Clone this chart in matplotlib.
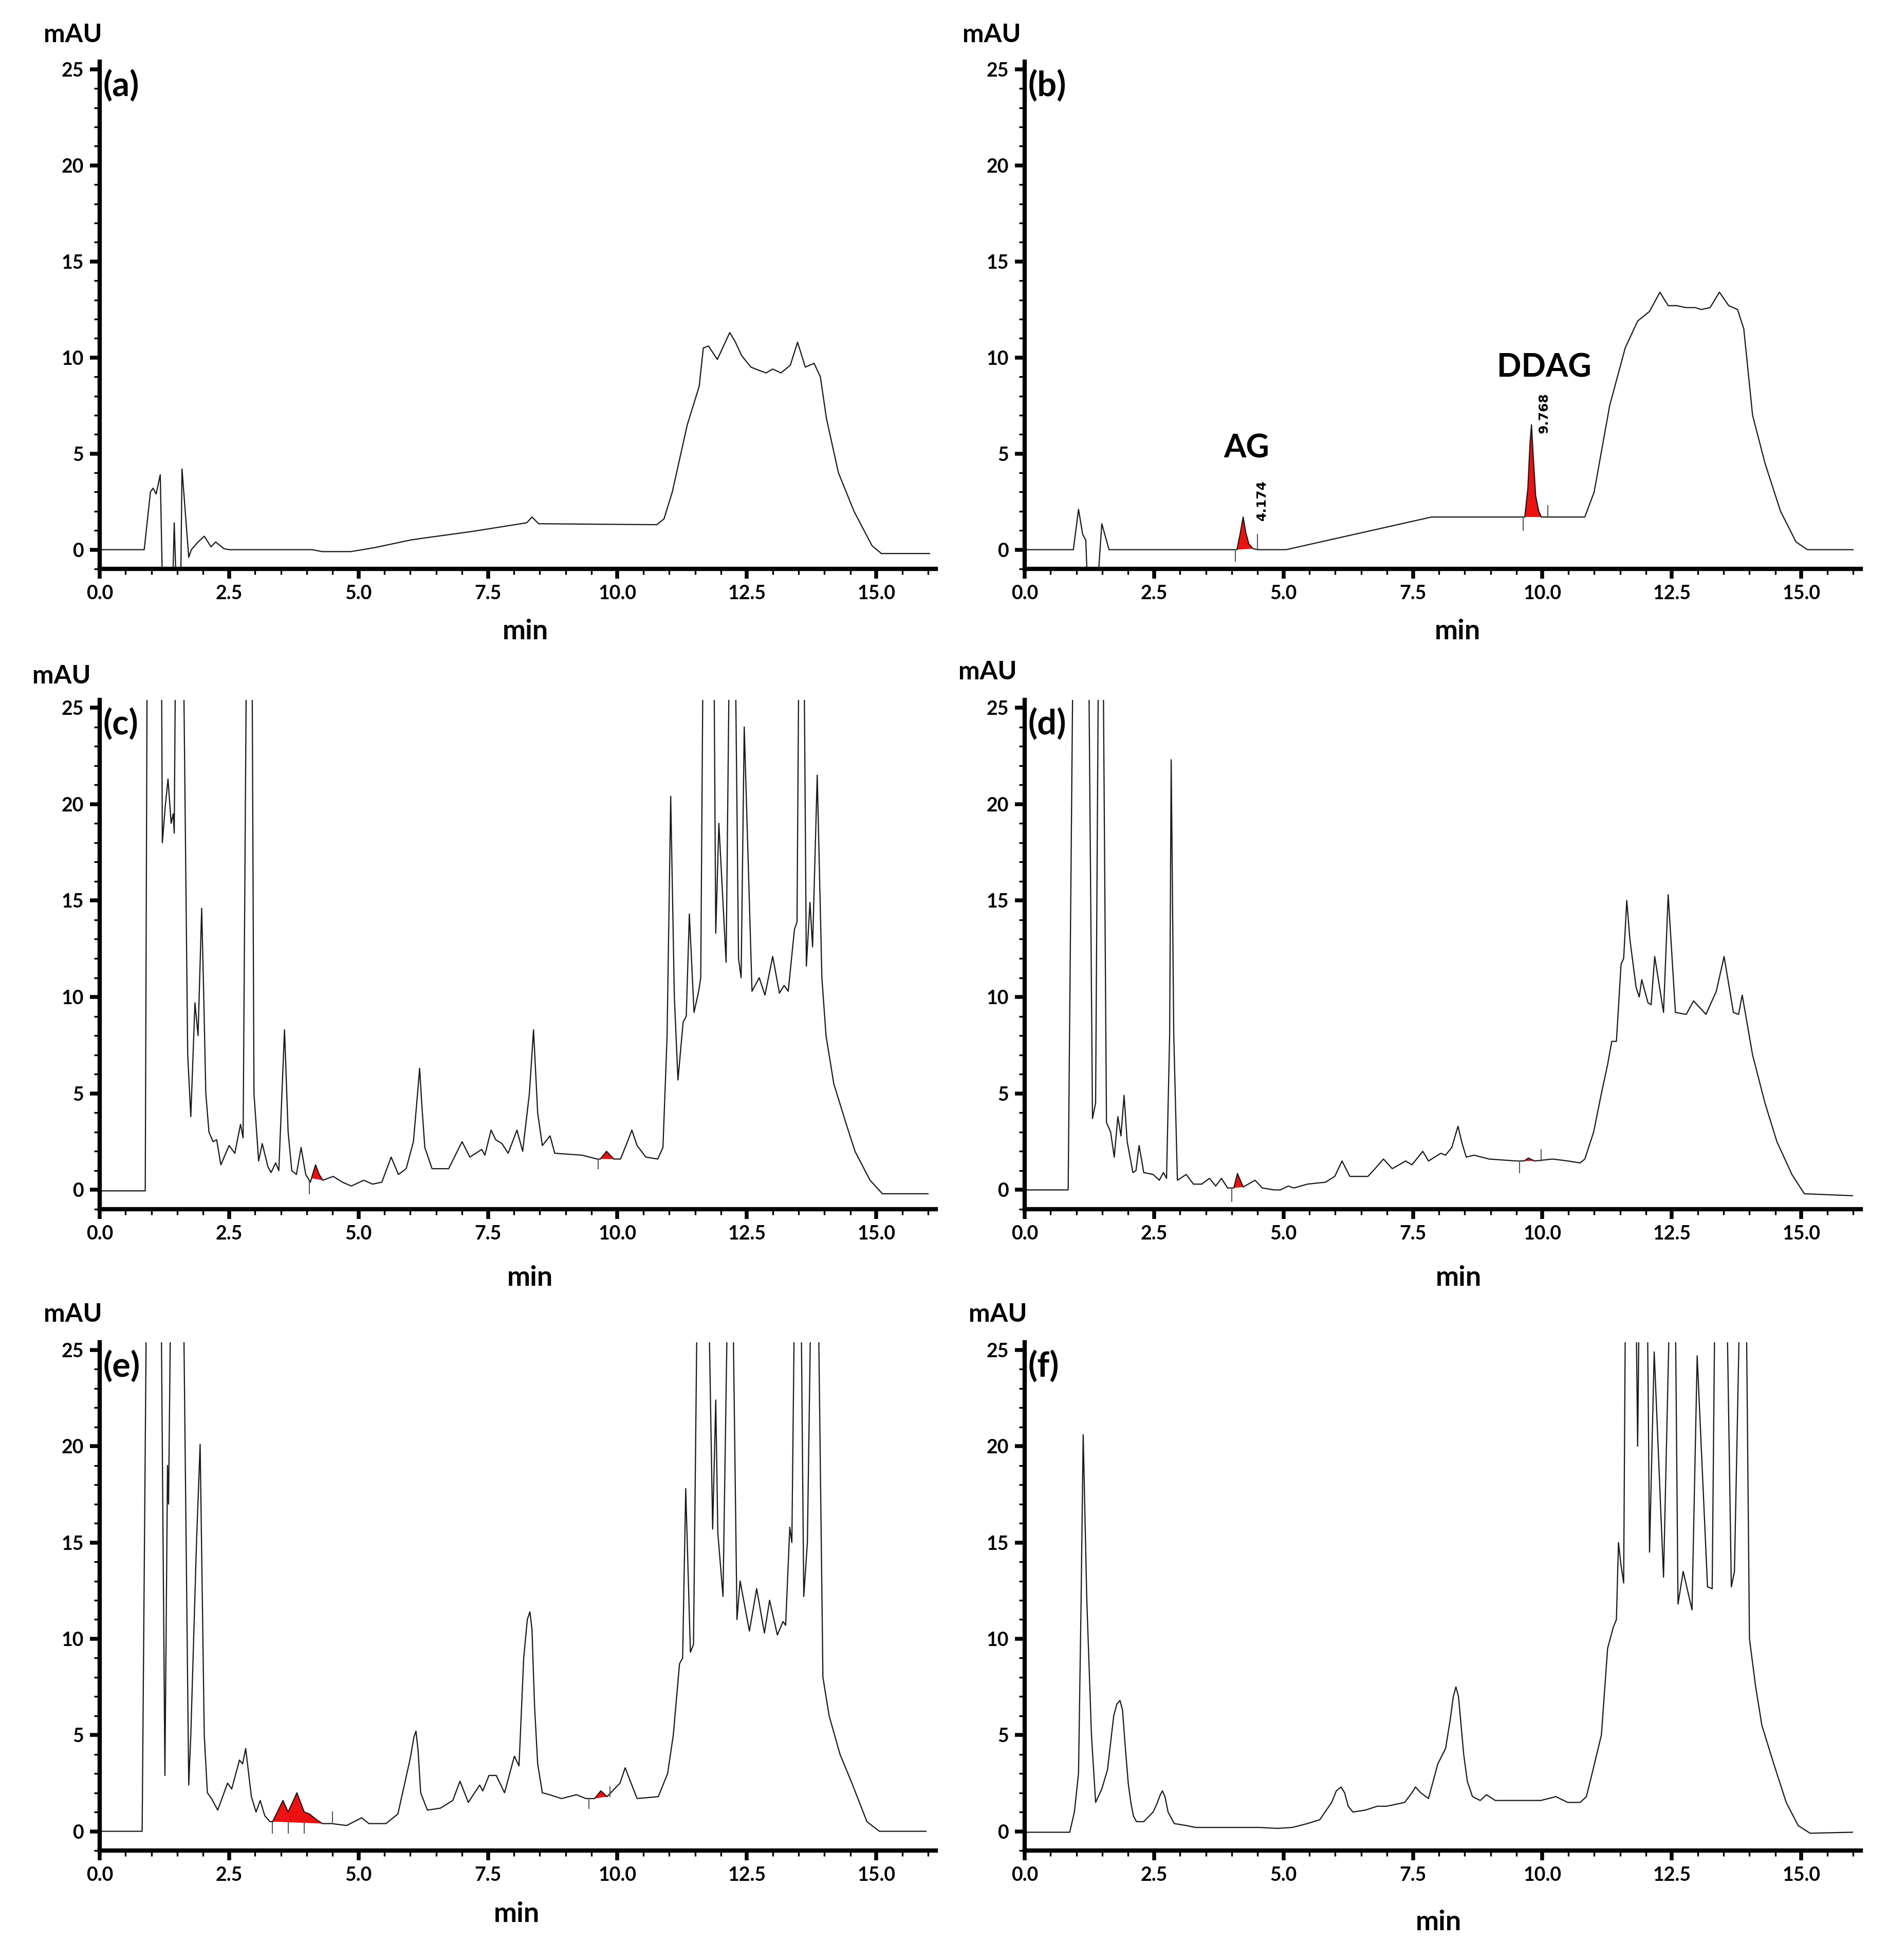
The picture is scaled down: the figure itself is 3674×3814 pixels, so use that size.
import numpy as np
import matplotlib
matplotlib.use("Agg")
import matplotlib.pyplot as plt
from matplotlib.ticker import MultipleLocator, FormatStrFormatter

plt.rcParams['font.family'] = ['Lato', 'DejaVu Sans']
plt.rcParams['font.weight'] = 'bold'

# chromatogram traces: (min, mAU); 30 = off scale
trace_a = [(0, 0), (0.86, 0), (0.98, 3.0), (1.03, 3.2), (1.09, 2.9), (1.17, 3.9), (1.22, -3),
           (1.40, -3), (1.44, 1.4), (1.49, -3), (1.56, -3), (1.59, 4.2), (1.72, -0.4), (1.77, 0.0),
           (1.90, 0.4), (2.02, 0.7), (2.15, 0.15), (2.24, 0.4), (2.40, 0.05), (2.50, 0.0), (4.10, 0.0),
           (4.30, -0.1), (4.85, -0.1), (5.30, 0.1), (6.0, 0.5), (6.25, 0.6), (7.2, 0.95), (7.9, 1.25),
           (8.25, 1.4), (8.35, 1.7), (8.48, 1.35), (10.76, 1.3), (10.9, 1.6), (11.06, 3.0), (11.35, 6.5),
           (11.58, 8.5), (11.66, 10.5), (11.76, 10.6), (11.93, 9.9), (12.05, 10.6), (12.17, 11.3),
           (12.28, 10.8), (12.4, 10.1), (12.58, 9.5), (12.72, 9.35), (12.87, 9.2), (13.0, 9.4),
           (13.16, 9.2), (13.34, 9.6), (13.48, 10.8), (13.63, 9.5), (13.8, 9.7), (13.92, 9.0),
           (14.04, 6.8), (14.27, 4.0), (14.57, 2.0), (14.92, 0.2), (15.1, -0.2), (16.03, -0.2)]

trace_b = [(0, 0), (0.94, 0), (1.04, 2.1), (1.12, 0.8), (1.18, 0.5), (1.23, -3), (1.38, -3),
           (1.49, 1.35), (1.63, 0), (4.04, 0), (4.10, 0.0), (4.16, 0.8), (4.22, 1.7), (4.27, 0.9),
           (4.33, 0.3), (4.41, 0.05), (4.50, 0), (5.05, 0), (7.86, 1.7), (9.66, 1.7), (9.72, 3.2),
           (9.76, 5.5), (9.79, 6.5), (9.82, 5.0), (9.87, 2.8), (9.93, 2.0), (9.98, 1.7), (10.82, 1.7),
           (11.0, 3.0), (11.3, 7.5), (11.6, 10.5), (11.84, 11.9), (12.07, 12.4), (12.27, 13.4),
           (12.43, 12.7), (12.6, 12.7), (12.77, 12.6), (12.95, 12.6), (13.07, 12.5), (13.24, 12.6),
           (13.42, 13.4), (13.6, 12.7), (13.77, 12.5), (13.89, 11.5), (14.06, 7.0), (14.3, 4.5),
           (14.6, 2.0), (14.9, 0.4), (15.12, 0.0), (16.0, 0.0)]

trace_c = [(0, -0.05), (0.88, -0.05), (0.92, 30), (1.19, 30), (1.21, 18), (1.27, 20), (1.32, 21.3),
           (1.38, 19), (1.42, 19.5), (1.44, 18.5), (1.47, 30), (1.61, 30), (1.70, 7), (1.76, 3.8),
           (1.84, 9.7), (1.90, 8), (1.97, 14.6), (2.01, 10), (2.05, 5), (2.11, 3), (2.19, 2.5),
           (2.26, 2.6), (2.34, 1.3), (2.50, 2.3), (2.61, 1.9), (2.72, 3.4), (2.77, 2.7), (2.84, 30),
           (2.94, 30), (2.98, 5), (3.07, 1.5), (3.14, 2.4), (3.25, 1.2), (3.31, 0.9), (3.40, 1.4),
           (3.46, 1.0), (3.57, 8.3), (3.64, 3), (3.71, 1.0), (3.80, 0.8), (3.89, 2.2), (3.98, 0.8),
           (4.07, 0.4), (4.09, 0.6), (4.17, 1.3), (4.24, 0.8), (4.31, 0.5), (4.51, 0.7), (4.69, 0.4),
           (4.86, 0.2), (5.10, 0.5), (5.27, 0.3), (5.45, 0.4), (5.63, 1.7), (5.77, 0.8), (5.92, 1.1),
           (6.06, 2.5), (6.14, 5.0), (6.18, 6.3), (6.22, 4.5), (6.28, 2.2), (6.42, 1.1), (6.74, 1.1),
           (7.0, 2.5), (7.15, 1.7), (7.38, 2.1), (7.44, 1.8), (7.56, 3.1), (7.65, 2.6), (7.77, 2.4),
           (7.89, 1.9), (8.06, 3.1), (8.17, 2.0), (8.30, 5), (8.38, 8.3), (8.46, 4), (8.55, 2.3),
           (8.70, 2.8), (8.79, 1.9), (9.32, 1.8), (9.61, 1.6), (9.67, 1.6), (9.79, 2.0), (9.93, 1.6),
           (10.06, 1.6), (10.18, 2.4), (10.28, 3.1), (10.38, 2.3), (10.55, 1.7), (10.78, 1.6),
           (10.88, 2.2), (10.96, 8), (11.03, 20.4), (11.10, 10), (11.17, 5.7), (11.27, 8.7), (11.33, 9),
           (11.39, 14.3), (11.48, 9.2), (11.57, 10.3), (11.61, 11), (11.66, 30), (11.86, 30),
           (11.90, 13.3), (11.96, 19), (12.10, 11.8), (12.17, 30), (12.27, 30), (12.34, 12), (12.39, 11),
           (12.45, 24), (12.60, 10.3), (12.74, 11), (12.85, 10.1), (13.0, 12.1), (13.13, 10.2),
           (13.22, 10.6), (13.30, 10.3), (13.42, 13.5), (13.47, 13.9), (13.51, 30), (13.60, 30),
           (13.65, 11.6), (13.72, 14.9), (13.77, 12.6), (13.86, 21.5), (13.95, 11), (14.03, 8),
           (14.18, 5.5), (14.41, 3.5), (14.59, 2.0), (14.88, 0.5), (15.12, -0.2), (16.0, -0.2)]

trace_d = [(0, 0), (0.84, 0), (0.94, 30), (1.23, 30), (1.31, 3.7), (1.37, 4.5), (1.43, 30), (1.51, 30),
           (1.58, 3.5), (1.66, 3.0), (1.73, 1.7), (1.80, 3.8), (1.86, 2.8), (1.92, 4.9), (1.98, 2.5),
           (2.09, 0.9), (2.15, 1.0), (2.21, 2.3), (2.30, 0.9), (2.48, 0.8), (2.60, 0.5), (2.68, 0.9),
           (2.74, 0.6), (2.80, 8), (2.83, 22.3), (2.88, 8), (2.95, 0.5), (3.12, 0.8), (3.26, 0.3),
           (3.42, 0.3), (3.57, 0.6), (3.69, 0.2), (3.80, 0.6), (3.92, 0.1), (4.04, 0.1), (4.11, 0.85),
           (4.22, 0.15), (4.45, 0.5), (4.59, 0.1), (4.82, 0.0), (4.94, 0.0), (5.09, 0.2), (5.2, 0.1),
           (5.46, 0.3), (5.81, 0.4), (5.99, 0.7), (6.13, 1.5), (6.28, 0.7), (6.63, 0.7), (6.80, 1.2),
           (6.93, 1.6), (7.10, 1.1), (7.36, 1.5), (7.48, 1.3), (7.69, 2.0), (7.80, 1.5), (8.04, 1.9),
           (8.13, 1.8), (8.25, 2.2), (8.37, 3.3), (8.45, 2.4), (8.53, 1.7), (8.68, 1.8), (8.97, 1.6),
           (9.50, 1.5), (9.65, 1.5), (9.73, 1.65), (9.85, 1.5), (10.2, 1.6), (10.49, 1.5), (10.73, 1.4),
           (10.82, 1.6), (10.99, 3.0), (11.14, 5.0), (11.26, 6.5), (11.34, 7.7), (11.43, 7.7),
           (11.52, 11.7), (11.57, 12), (11.63, 15), (11.69, 13), (11.81, 10.5), (11.87, 10),
           (11.92, 10.9), (12.04, 9.7), (12.10, 9.6), (12.17, 12.1), (12.34, 9.2), (12.43, 15.3),
           (12.57, 9.2), (12.78, 9.1), (12.92, 9.8), (13.16, 9.1), (13.36, 10.3), (13.51, 12.1),
           (13.69, 9.2), (13.79, 9.1), (13.86, 10.1), (14.06, 7.0), (14.30, 4.5), (14.53, 2.5),
           (14.82, 0.8), (15.06, -0.2), (15.99, -0.3)]

trace_e = [(0, 0), (0.82, 0), (0.91, 30), (1.18, 30), (1.26, 2.9), (1.31, 19), (1.33, 17), (1.38, 30),
           (1.61, 30), (1.72, 2.4), (1.76, 5), (1.87, 15), (1.94, 20.1), (2.02, 5), (2.08, 2.0),
           (2.16, 1.7), (2.28, 1.1), (2.47, 2.5), (2.55, 2.2), (2.70, 3.7), (2.76, 3.5), (2.82, 4.3),
           (2.93, 1.8), (3.02, 1.0), (3.10, 1.6), (3.19, 0.8), (3.29, 0.5), (3.34, 0.5), (3.54, 1.6),
           (3.64, 1.0), (3.81, 2.0), (3.95, 1.0), (4.05, 0.9), (4.19, 0.6), (4.30, 0.4), (4.48, 0.4),
           (4.77, 0.3), (5.06, 0.7), (5.20, 0.4), (5.53, 0.4), (5.76, 0.9), (6.00, 3.8), (6.07, 4.9),
           (6.11, 5.2), (6.15, 4.2), (6.20, 2.0), (6.33, 1.1), (6.58, 1.2), (6.82, 1.6), (6.96, 2.6),
           (7.12, 1.5), (7.34, 2.4), (7.40, 2.1), (7.52, 2.9), (7.66, 2.9), (7.82, 2.0), (8.01, 3.9),
           (8.10, 3.4), (8.19, 9), (8.26, 11.0), (8.31, 11.4), (8.35, 10.5), (8.40, 6.5), (8.46, 3.5),
           (8.55, 2.0), (8.69, 1.9), (8.92, 1.7), (9.21, 1.9), (9.39, 1.7), (9.56, 1.7), (9.68, 2.1),
           (9.80, 1.8), (10.05, 2.5), (10.15, 3.3), (10.25, 2.6), (10.38, 1.7), (10.79, 1.8),
           (10.97, 3.0), (11.08, 5.0), (11.20, 8.7), (11.26, 9), (11.32, 17.8), (11.41, 9.3),
           (11.47, 9.7), (11.55, 30), (11.75, 30), (11.84, 15.7), (11.90, 22.4), (11.94, 15.5),
           (12.04, 12.2), (12.14, 30), (12.22, 30), (12.31, 11.0), (12.37, 13.0), (12.55, 10.4),
           (12.69, 12.6), (12.84, 10.3), (12.94, 12.0), (13.09, 10.2), (13.20, 10.9), (13.25, 10.7),
           (13.33, 15.8), (13.37, 15), (13.43, 30), (13.54, 30), (13.60, 12.2), (13.67, 15),
           (13.75, 30), (13.87, 30), (13.97, 8), (14.09, 6), (14.30, 4), (14.53, 2.5), (14.82, 0.5),
           (15.06, 0), (15.96, 0)]

trace_f = [(0, -0.05), (0.87, -0.05), (0.96, 1.0), (1.04, 3.0), (1.09, 12), (1.13, 20.6), (1.20, 12),
           (1.29, 5), (1.37, 1.5), (1.49, 2.2), (1.60, 3.2), (1.72, 6.0), (1.78, 6.6), (1.84, 6.8),
           (1.89, 6.3), (1.94, 4.5), (2.00, 2.5), (2.05, 1.5), (2.10, 0.8), (2.16, 0.5), (2.30, 0.5),
           (2.48, 1.0), (2.55, 1.4), (2.62, 1.9), (2.66, 2.1), (2.71, 1.8), (2.77, 1.0), (2.89, 0.4),
           (3.12, 0.3), (3.30, 0.2), (3.71, 0.2), (4.53, 0.2), (4.88, 0.15), (5.17, 0.2), (5.46, 0.4),
           (5.70, 0.6), (5.93, 1.5), (6.02, 2.1), (6.11, 2.3), (6.18, 2.0), (6.25, 1.3), (6.34, 1.0),
           (6.58, 1.1), (6.81, 1.3), (6.99, 1.3), (7.34, 1.5), (7.48, 2.0), (7.55, 2.3), (7.65, 2.0),
           (7.80, 1.7), (7.98, 3.5), (8.13, 4.3), (8.22, 5.8), (8.28, 7.0), (8.33, 7.5), (8.38, 7.0),
           (8.43, 5.5), (8.48, 4.0), (8.55, 2.6), (8.65, 1.8), (8.80, 1.6), (8.92, 1.9), (9.09, 1.6),
           (9.68, 1.6), (9.97, 1.6), (10.26, 1.8), (10.49, 1.5), (10.73, 1.5), (10.85, 1.8),
           (10.96, 3.0), (11.14, 5.0), (11.26, 9.5), (11.37, 10.6), (11.43, 11), (11.47, 15),
           (11.52, 13.8), (11.57, 12.9), (11.61, 30), (11.80, 30), (11.84, 20), (11.88, 30),
           (12.02, 30), (12.07, 14.5), (12.16, 24.9), (12.34, 13.2), (12.48, 30), (12.56, 30),
           (12.62, 11.8), (12.72, 13.5), (12.89, 11.5), (12.99, 24.7), (13.19, 12.7), (13.28, 12.6),
           (13.34, 30), (13.55, 30), (13.65, 12.7), (13.71, 13.5), (13.83, 30), (13.93, 30), (14.0, 10),
           (14.12, 7.5), (14.24, 5.5), (14.47, 3.5), (14.71, 1.5), (14.94, 0.3), (15.17, -0.1),
           (15.99, -0.05)]

# integrated (red) peaks: start / end time of each shaded segment
red_a = []
red_b = [(4.10, 4.41), (9.66, 9.98)]
red_c = [(4.09, 4.31), (9.67, 9.93)]
red_d = [(4.04, 4.22), (9.65, 9.85)]
red_e = [(3.34, 4.30), (9.56, 9.80)]
red_f = []

# integration marks: (time, from, to)
marks_b = [(4.07, -0.6, 0.0), (4.50, 0.8, 0.05), (9.63, 1.0, 1.7), (10.10, 2.3, 1.75)]
marks_c = [(4.05, -0.2, 0.4), (9.63, 1.1, 1.6)]
marks_d = [(4.00, -0.6, 0.1), (9.56, 0.9, 1.5), (9.98, 2.1, 1.5)]
marks_e = [(3.34, -0.1, 0.45), (3.64, -0.1, 0.45), (3.95, -0.1, 0.45), (4.50, 1.0, 0.4),
           (9.45, 1.2, 1.7), (9.86, 2.3, 1.8)]

panels = [('(a)', trace_a, red_a, []), ('(b)', trace_b, red_b, marks_b),
          ('(c)', trace_c, red_c, marks_c), ('(d)', trace_d, red_d, marks_d),
          ('(e)', trace_e, red_e, marks_e), ('(f)', trace_f, red_f, [])]

W, H = 3674, 3814
fig = plt.figure(figsize=(W / 300, H / 300), dpi=300)

lefts = [194, 1994]
rows = [(120, 1107), (1362, 2353), (2612, 3601)]
mau_pos = [(142, 68), (1930, 68), (120, 1315), (1922, 1307), (142, 2557), (1942, 2557)]
min_pos = [(1022, 1229), (2836, 1229), (1031, 2487), (2838, 2487), (1005, 3724), (2799, 3740)]

for i, (name, trace, reds, marks) in enumerate(panels):
    top, bot = rows[i // 2]
    left = lefts[i % 2]
    ax = fig.add_axes([left / W, 1 - bot / H, 1627 / W, (bot - top) / H])
    arr = np.array(trace)
    t, y = arr[:, 0], arr[:, 1]
    ax.plot(t, y, color='#1a1a1a', lw=0.55)
    for a, b in reds:
        m = (t >= a - 1e-9) & (t <= b + 1e-9)
        ax.fill(t[m], y[m], color='#ee1111', lw=0)
    for mt, y0, y1 in marks:
        ax.plot([mt, mt], [y0, y1], color='#555555', lw=0.5)

    ax.set_xlim(0, 16.15)
    ax.set_ylim(-1, 25.4)
    for s in ['top', 'right']:
        ax.spines[s].set_visible(False)
    for s in ['left', 'bottom']:
        ax.spines[s].set_linewidth(2.0)
    ax.xaxis.set_major_locator(MultipleLocator(2.5))
    ax.xaxis.set_minor_locator(MultipleLocator(0.5))
    ax.xaxis.set_major_formatter(FormatStrFormatter('%.1f'))
    ax.yaxis.set_major_locator(MultipleLocator(5))
    ax.yaxis.set_minor_locator(MultipleLocator(1))
    ax.tick_params(axis='both', which='major', direction='out', length=4.5, width=1.8,
                   labelsize=9, pad=3)
    ax.tick_params(axis='both', which='minor', direction='out', length=2.6, width=0.8)
    for lab in ax.get_xticklabels() + ax.get_yticklabels():
        lab.set_fontweight('bold')

    ax.text(0.004, 0.952, name, transform=ax.transAxes, ha='left', va='center',
            fontsize=16, fontweight='bold')

    mx, my = mau_pos[i]
    fig.text(mx / W, 1 - my / H, 'mAU', ha='center', va='center', fontsize=12, fontweight='bold')
    nx, ny = min_pos[i]
    fig.text(nx / W, 1 - ny / H, 'min', ha='center', va='center', fontsize=13, fontweight='bold')

    if name == '(b)':
        ax.text(4.29, 5.27, 'AG', ha='center', va='center', fontsize=15, fontweight='bold')
        ax.text(10.03, 9.46, 'DDAG', ha='center', va='center', fontsize=15, fontweight='bold')
        ax.text(4.59, 2.56, '4.174', rotation=90, ha='center', va='center', fontsize=6,
                fontweight='bold', family='DejaVu Sans')
        ax.text(10.03, 7.11, '9.768', rotation=90, ha='center', va='center', fontsize=6,
                fontweight='bold', family='DejaVu Sans')

fig.savefig('out.png', dpi=300)
